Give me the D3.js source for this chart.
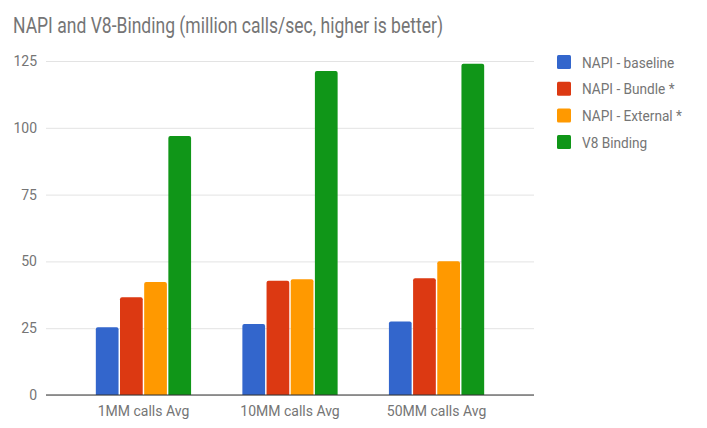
<!DOCTYPE html>
<html>
<head>
<meta charset="utf-8">
<script src="https://cdn.jsdelivr.net/npm/d3@7"></script>
<style>
  html, body { margin: 0; padding: 0; background: #fff; }
  text { font-family: Roboto, "Noto Sans", sans-serif; }
</style>
</head>
<body>
<svg id="chart" width="707" height="428"></svg>
<script>
const title = "NAPI and V8-Binding (million calls/sec, higher is better)";
const categories = ["1MM calls Avg", "10MM calls Avg", "50MM calls Avg"];
const seriesNames = ["NAPI - baseline", "NAPI - Bundle *", "NAPI - External *", "V8 Binding"];
const seriesColors = ["#3366cc", "#dc3912", "#ff9900", "#109618"];
const napiBaseline = [25.4, 26.6, 27.5];
const napiBundle = [36.6, 42.8, 43.7];
const napiExternal = [42.3, 43.3, 50.1];
const v8Binding = [96.9, 121.3, 124.0];
const yTicks = [0, 25, 50, 75, 100, 125];

(function () {
const seriesValues = [napiBaseline, napiBundle, napiExternal, v8Binding];
const data = categories.map((c, i) => ({
  cat: c,
  vals: seriesNames.map((s, j) => ({ name: s, value: seriesValues[j][i], color: seriesColors[j] }))
}));

const svg = d3.select("#chart");
const pLeft = 46, pRight = 534, pTop = 61, pBottom = 395;

const x = d3.scaleBand().domain(categories).range([pLeft, pRight]).paddingInner(0.35).paddingOuter(0.34);
const xs = d3.scaleBand().domain(seriesNames).range([0, x.bandwidth()]).paddingInner(0.06);
const y = d3.scaleLinear().domain([0, 125]).range([pBottom, pTop]);

// title
svg.append("text")
  .attr("x", 13).attr("y", 33)
  .attr("font-size", 22.5)
  .attr("fill", "#757575")
  .attr("textLength", 430)
  .attr("lengthAdjust", "spacingAndGlyphs")
  .text(title);

// gridlines
const yAxis = d3.axisLeft(y).tickValues(yTicks).tickSize(-(pRight - pLeft)).tickPadding(9);
const gy = svg.append("g").attr("transform", `translate(${pLeft},0)`).call(yAxis);
gy.select(".domain").remove();
gy.selectAll(".tick line").attr("stroke", "#e3e3e3").attr("stroke-width", 1);
gy.selectAll(".tick text").attr("font-size", 14).attr("fill", "#757575")
  .attr("font-family", "Roboto, sans-serif");

// bars
const groups = svg.append("g").selectAll("g").data(data).join("g")
  .attr("transform", d => `translate(${x(d.cat)},0)`);
groups.selectAll("path").data(d => d.vals).join("path")
  .attr("fill", d => d.color)
  .attr("d", d => {
    const x0 = xs(d.name), w = xs.bandwidth();
    const y0 = y(d.value), r = 2;
    return `M${x0},${y(0)}V${y0 + r}Q${x0},${y0} ${x0 + r},${y0}H${x0 + w - r}Q${x0 + w},${y0} ${x0 + w},${y0 + r}V${y(0)}Z`;
  });

// x axis
const xAxis = d3.axisBottom(x).tickSize(0).tickPadding(11);
const gx = svg.append("g").attr("transform", `translate(0,${pBottom})`).call(xAxis);
gx.select(".domain").remove();
gx.selectAll(".tick text").attr("font-size", 14).attr("fill", "#757575")
  .attr("font-family", "Roboto, sans-serif");
svg.append("line").attr("x1", pLeft).attr("x2", pRight).attr("y1", y(0)).attr("y2", y(0))
  .attr("stroke", "#333").attr("stroke-width", 1.2);

// legend
const legend = svg.append("g").attr("transform", "translate(557,55)");
const li = legend.selectAll("g").data(seriesNames).join("g")
  .attr("transform", (d, i) => `translate(0,${i * 26.7})`);
li.append("rect").attr("width", 14).attr("height", 14).attr("rx", 1.5)
  .attr("fill", (d, i) => seriesColors[i]);
li.append("text").attr("x", 25).attr("y", 12.5).attr("font-size", 14.5)
  .attr("fill", "#757575").text(d => d)
  .each(function () {
    const len = this.getComputedTextLength();
    d3.select(this).attr("textLength", len * 0.94).attr("lengthAdjust", "spacingAndGlyphs");
  });
})();
</script>
</body>
</html>
